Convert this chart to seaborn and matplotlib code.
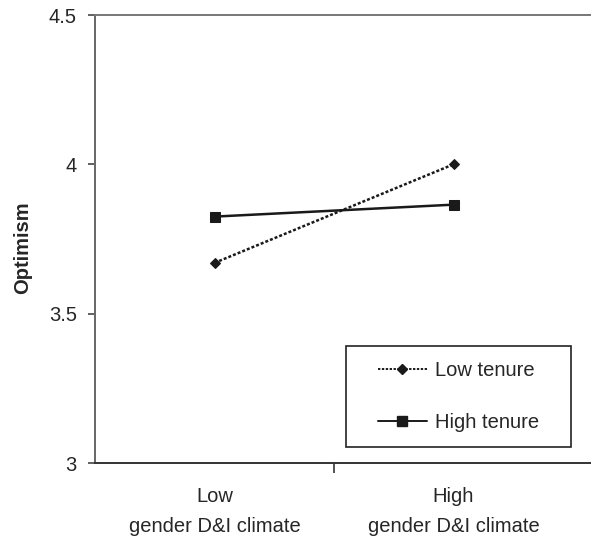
import matplotlib
matplotlib.use("Agg")
import matplotlib.pyplot as plt
from matplotlib.lines import Line2D
from matplotlib.patches import Rectangle
import seaborn as sns
import pandas as pd

categories = ["Low\ngender D&I climate", "High\ngender D&I climate"]
series = ["Low tenure", "High tenure"]
low_tenure = [3.67, 4.00]
high_tenure = [3.825, 3.865]
yticks = [3, 3.5, 4, 4.5]
ytick_labels = ["3", "3.5", "4", "4.5"]

sns.set_style("white")
plt.rcParams["font.family"] = ["Liberation Sans", "DejaVu Sans"]

rows = []
for name, vals in zip(series, [low_tenure, high_tenure]):
    for i, v in enumerate(vals):
        rows.append({"pos": i, "val": v, "tenure": name})
df = pd.DataFrame(rows)

fig = plt.figure(figsize=(5.91, 5.43), dpi=100)
ax = fig.add_axes([95/591, 80/543, 496/591, 448/543])

line_color = "#1a1a1a"
sns.lineplot(data=df, x="pos", y="val", style="tenure", style_order=series,
             markers={"Low tenure": "D", "High tenure": "s"},
             dashes={"Low tenure": (1.2, 0.8), "High tenure": ""},
             color=line_color, linewidth=1.8, markersize=6,
             markeredgecolor=line_color, legend=False, ax=ax)
for ln in ax.get_lines():
    if ln.get_marker() == "D":
        ln.set_markersize(5)
    elif ln.get_marker() == "s":
        ln.set_markersize(7)

ax.set_xlim(-0.5, 0.5 + 257/239)
ax.set_ylim(3, 4.5)
ax.set_yticks(yticks)
ax.set_yticklabels(ytick_labels)
ax.set_xticks([0, 1])
ax.set_xticklabels(categories, linespacing=1.75)
ax.set_xticks([0.5], minor=True)
ax.tick_params(axis="x", which="major", length=0, pad=17, labelsize=14.5)
ax.tick_params(axis="x", which="minor", length=7, width=1.3, direction="out",
               color="#444", bottom=True)
ax.tick_params(axis="y", length=5, width=1.3, direction="out", color="#555",
               pad=8, labelsize=14.5, left=True)
ax.set_xlabel("")
ax.set_ylabel("Optimism", fontsize=14.5, fontweight="bold")
ax.yaxis.set_label_coords((32 - 95)/496, (463 - 248)/448)

for s in ["left", "top", "bottom"]:
    ax.spines[s].set_visible(True)
    ax.spines[s].set_linewidth(1.4)
ax.spines["left"].set_color("#666")
ax.spines["top"].set_color("#777")
ax.spines["bottom"].set_color("#333")
ax.spines["right"].set_visible(False)

box = Rectangle(((346-95)/496, (463-447)/448), 225/496, 101/448,
                transform=ax.transAxes, fill=False, edgecolor="#222",
                linewidth=1.2, zorder=5)
ax.add_patch(box)
handles = [
    Line2D([], [], color=line_color, linestyle=(0, (1.2, 0.8)), linewidth=1.4,
           marker="D", markersize=5),
    Line2D([], [], color=line_color, linestyle="-", linewidth=1.4,
           marker="s", markersize=7),
]
leg = ax.legend(handles, series, loc="center",
                bbox_to_anchor=(((346+571)/2 - 95)/496, (463-396.5)/448),
                frameon=False, fontsize=14.5, handlelength=2.4,
                handletextpad=0.4, labelspacing=1.6)

fig.savefig("out.png", dpi=100)
